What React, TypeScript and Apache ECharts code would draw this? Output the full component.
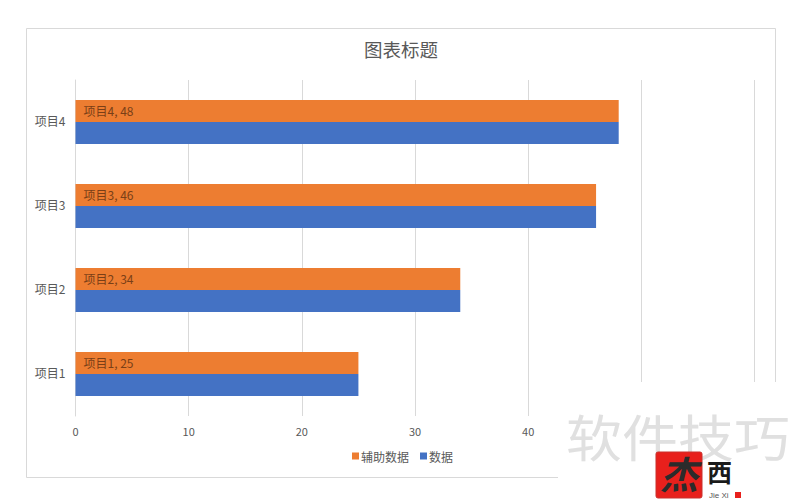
import React, { useEffect, useRef } from "react";
import * as echarts from "echarts";

const categories = ["项目1", "项目2", "项目3", "项目4"];
const dataValues = [25, 34, 46, 48];
const helperValues = [25, 34, 46, 48];
const hiddenTicks = [50, 60];
const FONT = "'Noto Sans CJK SC', 'Noto Sans', sans-serif";

export default function App() {
  const ref = useRef<HTMLDivElement>(null);
  useEffect(() => {
    const chart = echarts.init(ref.current!, null, { renderer: "svg" });
    chart.setOption({
      animation: false,
      backgroundColor: "#ffffff",
      title: {
        text: "图表标题",
        left: 396,
        top: 35,
        textAlign: "center",
        textStyle: { fontFamily: FONT, fontSize: 18.5, fontWeight: "normal", color: "#595959" },
      },
      legend: {
        data: ["辅助数据", "数据"],
        left: 347,
        top: 445,
        icon: "rect",
        itemWidth: 7,
        itemHeight: 7,
        itemGap: 11,
        textStyle: { fontFamily: FONT, fontSize: 12, color: "#595959", padding: [0, 0, 0, -3] },
      },
      grid: { left: 75.5, top: 80, width: 679, height: 336, containLabel: false },
      xAxis: {
        type: "value",
        min: 0,
        max: 60,
        interval: 10,
        axisLine: { show: false },
        axisTick: { show: false },
        axisLabel: {
          fontFamily: FONT,
          fontSize: 11,
          color: "#595959",
          margin: 9,
          formatter: (v: number) => (hiddenTicks.includes(v) ? "" : String(v)),
        },
        splitLine: { show: true, lineStyle: { color: "#d9d9d9", width: 1 } },
      },
      yAxis: {
        type: "category",
        data: categories,
        axisLine: { show: true, lineStyle: { color: "#d9d9d9", width: 1 } },
        axisTick: { show: false },
        axisLabel: {
          fontFamily: FONT,
          fontSize: 12,
          color: "#595959",
          margin: 10,
          verticalAlign: "bottom",
          lineHeight: 4,
        },
      },
      series: [
        {
          name: "辅助数据",
          type: "bar",
          data: helperValues,
          barWidth: 22,
          barGap: 0,
          itemStyle: { color: "#ed7d31" },
          label: {
            show: true,
            position: "insideLeft",
            distance: 8,
            offset: [0, -1],
            formatter: "{b}, {c}",
            fontFamily: FONT,
            fontSize: 12,
            color: "#7a3f17",
          },
        },
        {
          name: "数据",
          type: "bar",
          data: dataValues,
          barWidth: 22,
          barGap: 0,
          itemStyle: { color: "#4472c4" },
        },
      ],
      graphic: [
        {
          type: "rect",
          z: 1,
          shape: { x: 26.5, y: 28.5, width: 749, height: 449 },
          style: { fill: "none", stroke: "#d9d9d9", lineWidth: 1 },
        },
        {
          type: "rect",
          z: 50,
          shape: { x: 558, y: 382, width: 239, height: 118 },
          style: { fill: "#ffffff" },
        },
        {
          type: "text",
          z: 51,
          x: 566,
          y: 410,
          scaleY: 0.9,
          style: { text: "软件技巧", fontFamily: FONT, fontSize: 56, fill: "#e0e0e0" },
        },
        {
          type: "rect",
          z: 52,
          shape: { x: 656, y: 452, width: 46, height: 46, r: 2 },
          style: { fill: "#e8201c", stroke: "#c9302c", lineWidth: 1 },
        },
        {
          type: "text",
          z: 53,
          x: 660,
          y: 453,
          style: { text: "杰", fontFamily: FONT, fontSize: 38, fontWeight: "bold", fontStyle: "italic", fill: "#2b2b2b" },
        },
        {
          type: "text",
          z: 53,
          x: 707,
          y: 458,
          style: { text: "西", fontFamily: FONT, fontSize: 25, fontWeight: "bold", fill: "#1a1a1a" },
        },
        {
          type: "text",
          z: 53,
          x: 709,
          y: 491,
          style: { text: "Jie Xi", fontFamily: "'Liberation Sans', sans-serif", fontSize: 8, fill: "#555555" },
        },
        {
          type: "rect",
          z: 53,
          shape: { x: 735, y: 492, width: 6, height: 6 },
          style: { fill: "#e8201c" },
        },
      ],
    });
    return () => chart.dispose();
  }, []);
  return (
    <div
      ref={ref}
      style={{ position: "absolute", left: 0, top: 0, width: 797, height: 500, background: "#fff" }}
    />
  );
}
